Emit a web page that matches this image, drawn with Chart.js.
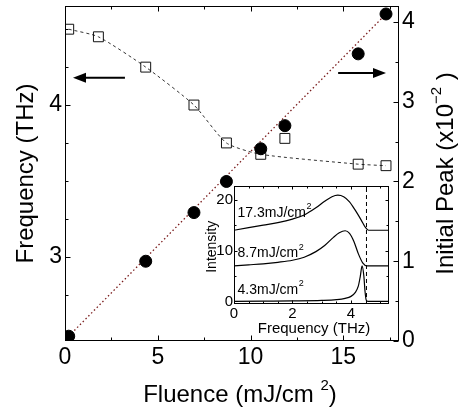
<!DOCTYPE html>
<html><head><meta charset="utf-8">
<script src="https://cdn.jsdelivr.net/npm/chart.js@4.4.0/dist/chart.umd.min.js"></script>
<style>
html,body{margin:0;padding:0;background:#fff;}
#wrap{position:relative;width:459px;height:413px;overflow:hidden;}
#main{position:absolute;left:0;top:0;}
#inset{position:absolute;left:195px;top:180px;}
</style></head><body>
<div id="wrap"><canvas id="main" width="459" height="413"></canvas><canvas id="inset" width="200" height="160"></canvas></div>
<script>
// ---------- main panel data ----------
const sqFluence   = [0.2, 1.8, 4.35, 6.95, 8.7, 10.55, 11.85, 15.8, 17.3];
const sqFrequency = [4.50, 4.45, 4.25, 4.00, 3.75, 3.675, 3.78, 3.61, 3.60];
const lineFluence   = [0.2, 1.8, 4.35, 6.95, 8.7, 10.55, 15.8, 17.3];
const lineFrequency = [4.50, 4.45, 4.25, 4.00, 3.75, 3.675, 3.61, 3.60];
const dotFluence = [0.2, 4.35, 6.95, 8.7, 10.55, 11.85, 15.8, 17.3];
const dotPeak    = [0.06, 1.00, 1.61, 2.00, 2.41, 2.70, 3.60, 4.10];
const fitFluence = [0.2, 17.3];
const fitPeak    = [0.06, 4.10];
const xTickValues = [0, 2.5, 5, 7.5, 10, 12.5, 15, 17.5];
const xTickLabels = [0, 5, 10, 15];
const freqTickValues = [2.5, 2.75, 3, 3.25, 3.5, 3.75, 4, 4.25, 4.5];
const freqTickLabels = [3, 4];
const peakTickValues = [0, 0.5, 1, 1.5, 2, 2.5, 3, 3.5, 4];
const peakTickLabels = [0, 1, 2, 3, 4];

// ---------- inset data ----------
const spec173X = [0, 0.5, 1.0, 1.5, 2.0, 2.4, 2.8, 3.1, 3.35, 3.55, 3.75, 3.95, 4.15, 4.35, 4.5, 4.6, 5.3];
const spec173Y = [14.0, 14.5, 15.0, 15.5, 16.2, 17.0, 18.4, 19.7, 20.6, 20.9, 20.6, 19.6, 17.9, 16.0, 14.5, 14.0, 14.0];
const spec87X = [0, 0.5, 1.0, 1.5, 2.0, 2.4, 2.8, 3.1, 3.4, 3.6, 3.8, 3.95, 4.1, 4.25, 4.4, 4.55, 5.3];
const spec87Y = [7.0, 7.2, 7.4, 7.7, 8.1, 8.7, 9.8, 11.0, 12.6, 13.5, 13.9, 13.4, 11.8, 9.4, 7.6, 7.0, 7.0];
const spec43X = [0, 1, 2, 3, 3.5, 3.8, 4.0, 4.15, 4.25, 4.32, 4.38, 4.44, 4.48, 4.52, 4.6, 5.3];
const spec43Y = [0, 0.05, 0.1, 0.2, 0.35, 0.6, 1.0, 1.8, 3.0, 5.0, 7.0, 5.0, 2.0, 0.3, 0, 0];
const insetCutoff = 4.53;
const insetLabels = ['17.3mJ/cm', '8.7mJ/cm', '4.3mJ/cm'];
const insetLabelY = [17.4, 9.5, 2.3];
const insetXTicks = [0, 0.5, 1, 1.5, 2, 2.5, 3, 3.5, 4, 4.5, 5];
const insetXLabels = [0, 2, 4];
const insetYTicks = [0, 5, 10, 15, 20];
const insetYLabels = [0, 10, 20];

const FONT = "'Liberation Sans', Arial, Helvetica, sans-serif";
Chart.defaults.font.family = FONT;
Chart.defaults.color = '#000';

const zip = (xs, ys) => xs.map((x, i) => ({x, y: ys[i]}));
const noPad = s => { s.paddingTop = 0; s.paddingBottom = 0; s.paddingLeft = 0; s.paddingRight = 0; };

function richText(ctx, parts, cx, cy, rot, base, sup, raise) {
  ctx.save();
  ctx.translate(cx, cy);
  ctx.rotate(rot);
  ctx.textBaseline = 'middle';
  ctx.textAlign = 'left';
  let w = 0;
  parts.forEach(p => { ctx.font = (p.sup ? sup : base) + 'px ' + FONT; w += ctx.measureText(p.t).width; });
  let x = -w / 2;
  parts.forEach(p => {
    ctx.font = (p.sup ? sup : base) + 'px ' + FONT;
    ctx.fillText(p.t, x, p.sup ? -raise : 0);
    x += ctx.measureText(p.t).width;
  });
  ctx.restore();
}

function arrow(ctx, x1, y1, x2, y2) {
  const hl = 13, hw = 5;
  const dir = Math.sign(x2 - x1);
  ctx.beginPath();
  ctx.moveTo(x1, y1); ctx.lineTo(x2 - dir * hl, y2);
  ctx.lineWidth = 2; ctx.stroke();
  ctx.beginPath();
  ctx.moveTo(x2, y2); ctx.lineTo(x2 - dir * hl, y2 - hw); ctx.lineTo(x2 - dir * hl, y2 + hw);
  ctx.closePath(); ctx.fill();
}

const leftArrow  = {from: [3.23, 4.18], to: [0.43, 4.18]};
const rightArrow = {from: [14.72, 3.36], to: [17.3, 3.36]};

const mainDecor = {
  id: 'mainDecor',
  beforeDraw(chart) {
    const c = chart.ctx; c.save(); c.fillStyle = '#fff'; c.fillRect(0, 0, chart.width, chart.height); c.restore();
  },
  afterDraw(chart) {
    const {ctx, chartArea: a, scales} = chart;
    const L = Math.round(a.left) + 0.5, R = Math.round(a.right) - 0.5, T = Math.round(a.top) + 0.5, B = Math.round(a.bottom) - 0.5;
    ctx.save();
    ctx.strokeStyle = '#000'; ctx.fillStyle = '#000'; ctx.lineWidth = 1;
    ctx.strokeRect(L, T, R - L, B - T);
    ctx.beginPath();
    xTickValues.forEach(v => {
      const px = Math.round(scales.x.getPixelForValue(v)) + 0.5;
      const len = xTickLabels.includes(v) ? 5 : 3;
      ctx.moveTo(px, B); ctx.lineTo(px, B - len);
      ctx.moveTo(px, T); ctx.lineTo(px, T + len);
    });
    freqTickValues.forEach(v => {
      const py = Math.round(scales.y.getPixelForValue(v)) + 0.5;
      const len = freqTickLabels.includes(v) ? 5 : 3;
      ctx.moveTo(L, py); ctx.lineTo(L + len, py);
    });
    peakTickValues.forEach(v => {
      const py = Math.round(scales.y2.getPixelForValue(v)) + 0.5;
      const len = peakTickLabels.includes(v) ? 5 : 3;
      ctx.moveTo(R, py); ctx.lineTo(R - len, py);
    });
    ctx.stroke();
    arrow(ctx, scales.x.getPixelForValue(leftArrow.from[0]), scales.y.getPixelForValue(leftArrow.from[1]),
               scales.x.getPixelForValue(leftArrow.to[0]), scales.y.getPixelForValue(leftArrow.to[1]));
    arrow(ctx, scales.x.getPixelForValue(rightArrow.from[0]), scales.y2.getPixelForValue(rightArrow.from[1]),
               scales.x.getPixelForValue(rightArrow.to[0]), scales.y2.getPixelForValue(rightArrow.to[1]));
    const midY = (a.top + a.bottom) / 2;
    richText(ctx, [{t: 'Frequency (THz)'}], 26, midY, -Math.PI / 2, 24, 15, 9);
    richText(ctx, [{t: 'Initial Peak (x10'}, {t: '\u22122', sup: true}, {t: ' )'}], 446, midY, -Math.PI / 2, 24, 15, 9);
    richText(ctx, [{t: 'Fluence (mJ/cm '}, {t: '2', sup: true}, {t: ')'}], 240, 395, 0, 24, 15, 9);
    ctx.restore();
  }
};

new Chart(document.getElementById('main'), {
  type: 'scatter',
  data: {
    datasets: [
      {data: zip(dotFluence, dotPeak), yAxisID: 'y2', pointStyle: 'circle', pointRadius: 6,
       backgroundColor: '#000', borderColor: '#000', borderWidth: 1, showLine: false},
      {data: zip(sqFluence, sqFrequency), yAxisID: 'y', pointStyle: 'rect', pointRadius: 7,
       backgroundColor: 'rgba(0,0,0,0)', borderColor: '#111', borderWidth: 1, showLine: false},
      {data: zip(fitFluence, fitPeak), yAxisID: 'y2', showLine: true, pointRadius: 0,
       borderColor: '#7a1c1c', borderWidth: 1.3, borderDash: [1.5, 2.5]},
      {data: zip(lineFluence, lineFrequency), yAxisID: 'y', showLine: true, pointRadius: 0, tension: 0.2,
       borderColor: '#333', borderWidth: 1, borderDash: [3, 3]}
    ]
  },
  options: {
    responsive: false, animation: false, events: [],
    layout: {autoPadding: false, padding: {top: 6, left: 0, right: 0, bottom: 0}},
    plugins: {legend: {display: false}, tooltip: {enabled: false}},
    elements: {point: {hoverRadius: 0}},
    scales: {
      x: {type: 'linear', min: 0, max: 18, position: 'bottom',
          grid: {display: false, drawTicks: false}, border: {display: false},
          afterFit(s) { s.height = 72; noPad(s); },
          afterBuildTicks(s) { s.ticks = xTickValues.map(v => ({value: v})); },
          ticks: {autoSkip: false, maxRotation: 0, padding: 3, font: {size: 23},
                  callback: v => xTickLabels.includes(v) ? String(v) : ''}},
      y: {type: 'linear', min: 2.444, max: 4.653, position: 'left',
          grid: {display: false, drawTicks: false}, border: {display: false},
          afterFit(s) { s.width = 65; noPad(s); },
          afterBuildTicks(s) { s.ticks = freqTickValues.map(v => ({value: v})); },
          ticks: {autoSkip: false, padding: 3, font: {size: 23},
                  callback: v => freqTickLabels.includes(v) ? String(v) : ''}},
      y2: {type: 'linear', min: 0, max: 4.2, position: 'right',
          grid: {display: false, drawTicks: false}, border: {display: false},
          afterFit(s) { s.width = 60; noPad(s); },
          afterBuildTicks(s) { s.ticks = peakTickValues.map(v => ({value: v})); },
          ticks: {autoSkip: false, padding: 3, font: {size: 23},
                  callback: v => peakTickLabels.includes(v) ? String(v) : ''}}
    }
  },
  plugins: [mainDecor]
});

// ---------- inset ----------
const insetDecor = {
  id: 'insetDecor',
  beforeDatasetsDraw(chart) {
    const {ctx, chartArea: a} = chart;
    ctx.save(); ctx.fillStyle = '#fff'; ctx.fillRect(a.left, a.top, a.right - a.left, a.bottom - a.top); ctx.restore();
  },
  afterDraw(chart) {
    const {ctx, chartArea: a, scales} = chart;
    const L = Math.round(a.left) + 0.5, R = Math.round(a.right) - 0.5, T = Math.round(a.top) + 0.5, B = Math.round(a.bottom) - 0.5;
    ctx.save();
    ctx.strokeStyle = '#000'; ctx.fillStyle = '#000'; ctx.lineWidth = 1;
    ctx.strokeRect(L, T, R - L, B - T);
    ctx.beginPath();
    insetXTicks.forEach(v => {
      const px = Math.round(scales.x.getPixelForValue(v)) + 0.5;
      const len = insetXLabels.includes(v) ? 3 : 2;
      ctx.moveTo(px, B); ctx.lineTo(px, B - len);
      ctx.moveTo(px, T); ctx.lineTo(px, T + len);
    });
    insetYTicks.forEach(v => {
      const py = Math.round(scales.y.getPixelForValue(v)) + 0.5;
      const len = insetYLabels.includes(v) ? 3 : 2;
      ctx.moveTo(L, py); ctx.lineTo(L + len, py);
      ctx.moveTo(R, py); ctx.lineTo(R - len, py);
    });
    ctx.stroke();
    const lx = scales.x.getPixelForValue(0.12);
    insetLabels.forEach((t, i) => {
      const py = scales.y.getPixelForValue(insetLabelY[i]);
      ctx.save();
      ctx.textBaseline = 'middle'; ctx.textAlign = 'left';
      ctx.font = '14px ' + FONT;
      ctx.fillText(t, lx, py);
      const w = ctx.measureText(t).width;
      ctx.font = '9px ' + FONT;
      ctx.fillText('2', lx + w + 0.5, py - 6);
      ctx.restore();
    });
    richText(ctx, [{t: 'Intensity'}], 16.7, 66.7, -Math.PI / 2, 14, 9, 5);
    richText(ctx, [{t: 'Frequency (THz)'}], 119, 149, 0, 15, 9, 5);
    ctx.restore();
  }
};

const curveStyle = {showLine: true, pointRadius: 0, borderColor: '#000', borderWidth: 1.2, cubicInterpolationMode: 'monotone'};

new Chart(document.getElementById('inset'), {
  type: 'scatter',
  data: {
    datasets: [
      Object.assign({data: zip(spec173X, spec173Y)}, curveStyle),
      Object.assign({data: zip(spec87X, spec87Y)}, curveStyle),
      Object.assign({data: zip(spec43X, spec43Y)}, curveStyle),
      {data: [{x: insetCutoff, y: -0.5}, {x: insetCutoff, y: 22.7}], showLine: true, pointRadius: 0,
       borderColor: '#000', borderWidth: 1, borderDash: [4, 3]}
    ]
  },
  options: {
    responsive: false, animation: false, events: [],
    layout: {autoPadding: false, padding: {top: 6, left: 0, right: 6, bottom: 0}},
    plugins: {legend: {display: false}, tooltip: {enabled: false}},
    scales: {
      x: {type: 'linear', min: 0, max: 5.3,
          grid: {display: false, drawTicks: false}, border: {display: false},
          afterFit(s) { s.height = 36; noPad(s); },
          afterBuildTicks(s) { s.ticks = insetXTicks.map(v => ({value: v})); },
          ticks: {autoSkip: false, maxRotation: 0, padding: 1, font: {size: 15},
                  callback: v => insetXLabels.includes(v) ? String(v) : ''}},
      y: {type: 'linear', min: -0.5, max: 22.7,
          grid: {display: false, drawTicks: false}, border: {display: false},
          afterFit(s) { s.width = 39; noPad(s); },
          afterBuildTicks(s) { s.ticks = insetYTicks.map(v => ({value: v})); },
          ticks: {autoSkip: false, padding: 1, font: {size: 15},
                  callback: v => insetYLabels.includes(v) ? String(v) : ''}}
    }
  },
  plugins: [insetDecor]
});
</script>
</body></html>
